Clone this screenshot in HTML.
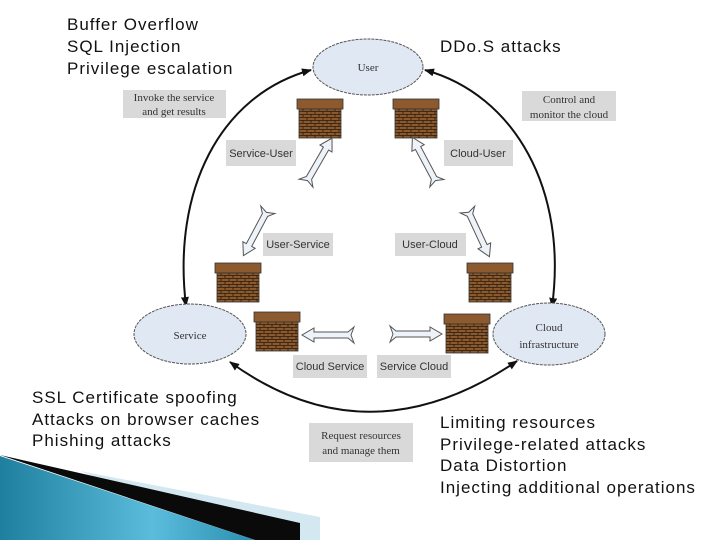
<!DOCTYPE html>
<html><head><meta charset="utf-8"><style>
html,body{margin:0;padding:0;background:#fff;width:720px;height:540px;overflow:hidden}
svg{display:block}
.t{font-family:"Liberation Sans","DejaVu Sans",sans-serif;font-size:17px;fill:#111;letter-spacing:1px}
.s{font-family:"Liberation Serif",serif;font-size:11px;fill:#333}
.a{font-family:"Liberation Sans",sans-serif;font-size:11px;fill:#333}
</style></head><body>
<svg width="720" height="540" viewBox="0 0 720 540" xmlns="http://www.w3.org/2000/svg">
<defs>
<marker id="ah" markerWidth="10" markerHeight="8" refX="9" refY="4" orient="auto-start-reverse" markerUnits="userSpaceOnUse">
<path d="M0,0 L10,4 L0,8 z" fill="#111"/></marker>
<pattern id="brick" width="8" height="6" patternUnits="userSpaceOnUse">
<rect width="8" height="6" fill="#8a5a2e"/>
<path d="M0,0.5H8M0,3.5H8M2,0V3M6,3V6" stroke="#2a1a0a" stroke-width="0.8"/>
</pattern>
<linearGradient id="bl" x1="0" y1="0" x2="1" y2="0"><stop offset="0" stop-color="#1f7f9f"/><stop offset="0.6" stop-color="#5bbcdc"/><stop offset="1" stop-color="#2a8fb0"/></linearGradient>
<g id="wall"><rect x="0" y="0" width="46" height="10" fill="#8d5a30" stroke="#333" stroke-width="0.8"/><rect x="2" y="10" width="42" height="29" fill="url(#brick)" stroke="#333" stroke-width="0.8"/></g>
<path id="harr" d="M0,-3 L34,-3 L34,-7 L46,0 L34,7 L34,3 L0,3 L-6,8 L-3,0 L-6,-8 Z" fill="#eef3f9" stroke="#555" stroke-width="1"/>
</defs>

<!-- decorative wedge -->
<polygon points="80,471 320,517 320,540 260,540" fill="#d3e8f0"/>
<polygon points="0,455 300,523 300,540 255,540" fill="#0a0a0a"/>
<polygon points="0,456 255,540 0,540" fill="url(#bl)"/>

<!-- big arcs -->
<g fill="none" stroke="#111" stroke-width="2">
<path d="M186,306 C172,190 220,95 311,70" marker-start="url(#ah)" marker-end="url(#ah)"/>
<path d="M425,70 C515,95 568,190 552,307" marker-start="url(#ah)" marker-end="url(#ah)"/>
<path d="M230,362 Q368,462 517,361" marker-start="url(#ah)" marker-end="url(#ah)"/>
</g>

<!-- ellipses -->
<g fill="#dfe8f3" stroke="#555" stroke-width="1" stroke-dasharray="3,1">
<ellipse cx="368" cy="67" rx="55" ry="28"/>
<ellipse cx="190" cy="334" rx="56" ry="30"/>
<ellipse cx="549" cy="334" rx="56" ry="31"/>
</g>
<text class="s" x="368" y="71" text-anchor="middle" font-size="12">User</text>
<text class="s" x="190" y="339" text-anchor="middle" font-size="13">Service</text>
<text class="s" x="549" y="331" text-anchor="middle" font-size="13">Cloud</text>
<text class="s" x="549" y="348" text-anchor="middle" font-size="12">infrastructure</text>

<!-- walls -->
<use href="#wall" x="297" y="99"/>
<use href="#wall" x="393" y="99"/>
<use href="#wall" x="215" y="263"/>
<use href="#wall" x="254" y="312"/>
<use href="#wall" x="444" y="314"/>
<use href="#wall" x="467" y="263"/>

<!-- hollow arrows -->
<use href="#harr" transform="translate(309,178) rotate(-60)"/>
<use href="#harr" transform="translate(434,178) rotate(-118)"/>
<use href="#harr" transform="translate(265,215) rotate(118)"/>
<use href="#harr" transform="translate(470,215) rotate(65)"/>
<use href="#harr" transform="translate(348,335) rotate(180)"/>
<use href="#harr" transform="translate(396,334) rotate(0)"/>

<!-- label boxes -->
<g fill="#d9d9d9">
<rect x="123" y="90" width="103" height="28"/>
<rect x="522" y="91" width="94" height="30"/>
<rect x="226" y="140" width="70" height="26"/>
<rect x="444" y="140" width="69" height="26"/>
<rect x="263" y="233" width="70" height="23"/>
<rect x="395" y="233" width="71" height="23"/>
<rect x="293" y="355" width="74" height="23"/>
<rect x="377" y="355" width="74" height="23"/>
<rect x="309" y="423" width="104" height="39"/>
</g>
<text class="s" x="174" y="101" text-anchor="middle">Invoke the service</text>
<text class="s" x="174" y="115" text-anchor="middle">and get results</text>
<text class="s" x="569" y="103" text-anchor="middle">Control and</text>
<text class="s" x="569" y="118" text-anchor="middle">monitor the cloud</text>
<text class="a" x="261" y="157" text-anchor="middle">Service-User</text>
<text class="a" x="478" y="157" text-anchor="middle">Cloud-User</text>
<text class="a" x="298" y="248" text-anchor="middle">User-Service</text>
<text class="a" x="430" y="248" text-anchor="middle">User-Cloud</text>
<text class="a" x="330" y="370" text-anchor="middle">Cloud Service</text>
<text class="a" x="414" y="370" text-anchor="middle">Service Cloud</text>
<text class="s" x="361" y="439" text-anchor="middle">Request resources</text>
<text class="s" x="361" y="454" text-anchor="middle">and manage them</text>

<!-- attack lists -->
<text class="t" x="67" y="30">Buffer Overflow</text>
<text class="t" x="67" y="52">SQL Injection</text>
<text class="t" x="67" y="74">Privilege escalation</text>
<text class="t" x="440" y="52">DDo.S attacks</text>
<text class="t" x="32" y="403">SSL Certificate spoofing</text>
<text class="t" x="32" y="425">Attacks on browser caches</text>
<text class="t" x="32" y="446">Phishing attacks</text>
<text class="t" x="440" y="428">Limiting resources</text>
<text class="t" x="440" y="450">Privilege-related attacks</text>
<text class="t" x="440" y="471">Data Distortion</text>
<text class="t" x="440" y="493">Injecting additional operations</text>
</svg>
</body></html>
